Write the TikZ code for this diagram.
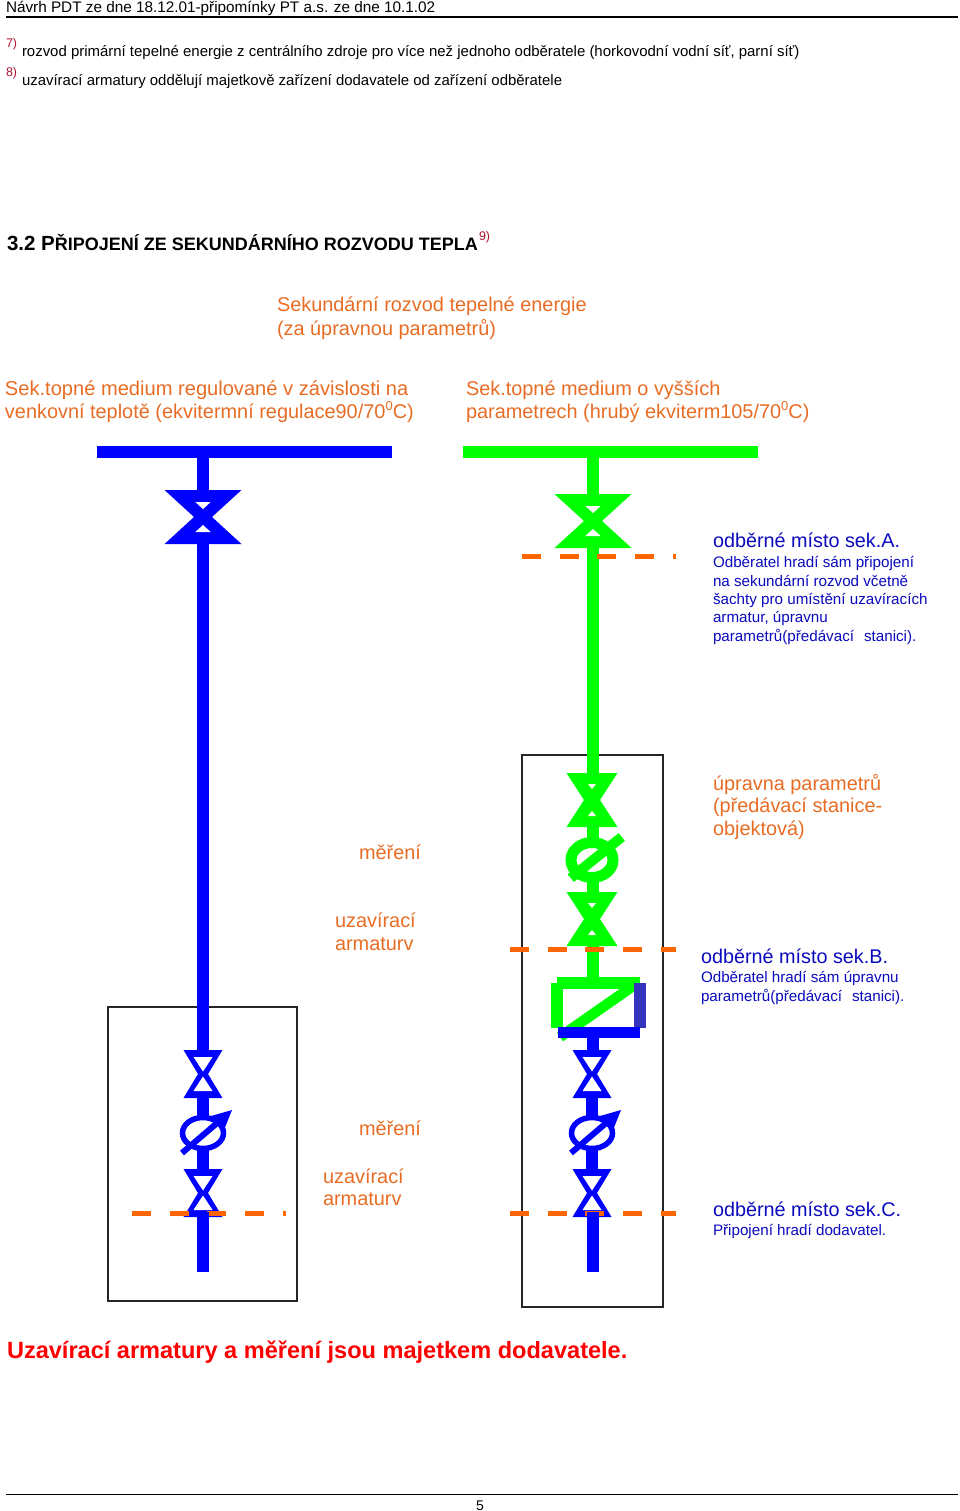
\documentclass[tikz,border=0pt]{standalone}
\usepackage{fontspec}
\setmainfont{Liberation Sans}
\definecolor{orangetxt}{RGB}{232,108,36}
\definecolor{orangecut}{RGB}{255,102,0}
\definecolor{bluetxt}{RGB}{10,10,190}
\definecolor{notered}{RGB}{170,20,50}
\definecolor{bluedark}{RGB}{51,51,190}
\definecolor{pipegreen}{RGB}{0,255,0}
\definecolor{pipeblue}{RGB}{0,0,255}
\def\fs#1{\fontsize{#1}{#1}\selectfont}
\tikzset{
lbl/.style={anchor=base west,inner sep=0pt,outer sep=0pt},
headlbl/.style={lbl,black,font=\fs{15.3}},
notelbl/.style={lbl,black,font=\fs{14.95}},
marklbl/.style={lbl,notered,font=\fs{12.5}},
orangelbl/.style={lbl,orangetxt,font=\fs{19.9}},
bigblue/.style={lbl,bluetxt,font=\fs{19.8}},
smallblue/.style={lbl,bluetxt,font=\fs{15.2}},
cutline/.style={orangecut,line width=5pt,dash pattern=on 18.8pt off 18.9pt},
pipeline/.style={line width=12pt}
}
% valve: x, y, half width, half height, colour, waist, a, b, c
\newcommand\valve[9]{
\fill [#5] (#1-#3,#2-#4)--(#1+#3,#2-#4)--(#1+#6,#2)--(#1+#3,#2+#4)--(#1-#3,#2+#4)--(#1-#6,#2)--cycle;
\fill [white] (#1-#9,#2-#7)--(#1+#9,#2-#7)--(#1,#2-#8)--cycle;
\fill [white] (#1-#9,#2+#7)--(#1+#9,#2+#7)--(#1,#2+#8)--cycle;
}
% lower set of valve, meter, valve
\newcommand\lowerset[1]{
\draw [pipeline,pipeblue] (#1-0.5,1096)--(#1-0.5,1172);
\valve{#1}{1074}{19.5}{24}{pipeblue}{5}{17}{2.5}{9.5}
\fill [white] (#1,1133) ellipse [x radius=21, y radius=16];
\draw [pipeblue,line width=5.5pt] (#1,1133) ellipse [x radius=20.5, y radius=15.5];
\draw [pipeblue,line width=6pt] (#1-21,1153)--(#1+20,1118);
\fill [pipeblue] (#1+29,1110)--(#1+8,1116)--(#1+21,1130)--cycle;
\valve{#1}{1193}{19.5}{24}{pipeblue}{5}{17}{2.5}{9.5}
}
\begin{document}
\begin{tikzpicture}[x=1pt,y=-1pt]
\useasboundingbox (0,0) rectangle (960,1511);

% header and footer
\coordinate (topleft) at (6,17);
\coordinate (topright) at (958,17);
\coordinate (botleft) at (6,1494);
\coordinate (botright) at (958,1494);
\draw [line width=1.2pt] (topleft)--(topright);
\draw [line width=1pt] (botleft)--(botright);
\node [headlbl] (title) at (6,12.5) {Návrh PDT ze dne 18.12.01-připomínky PT a.s. ze dne 10.1.02};
\node [lbl,black,font=\fs{14}] (page) at (476,1510) {5};

% notes
\node [marklbl] (mark7) at (6,48) {7)};
\node [notelbl] (note7) at (22,57) {rozvod primární tepelné energie z centrálního zdroje pro více než jednoho odběratele (horkovodní vodní síť, parní síť)};
\node [marklbl] (mark8) at (6,77) {8)};
\node [notelbl] (note8) at (22,86) {uzavírací armatury oddělují majetkově zařízení dodavatele od zařízení odběratele};

\node [lbl,black,font=\bfseries\fs{20.5}] (sect) at (7,251) {3.2 P\fs{18}ŘIPOJENÍ ZE SEKUNDÁRNÍHO ROZVODU TEPLA};
\node [marklbl] (mark9) at (479,241) {9)};

\node [orangelbl] (sek1) at (277,312) {Sekundární rozvod tepelné energie};
\node [orangelbl] (sek2) at (277,335) {(za úpravnou parametrů)};
\node [orangelbl,font=\fs{20.1}] (reg1) at (5,395) {Sek.topné medium regulované v závislosti na};
\node [orangelbl] (reg2) at (5,418) {venkovní teplotě (ekvitermní regulace90/70\raisebox{8pt}{\fs{13}0}C)};
\node [orangelbl] (hi1) at (466,395) {Sek.topné medium o vyšších};
\node [orangelbl] (hi2) at (466,418) {parametrech (hrubý ekviterm105/70\raisebox{8pt}{\fs{13}0}C)};

% boxes
\draw [line width=1.3pt,black!85] (108,1007) rectangle (297,1301);
\draw [line width=1.3pt,black!85] (522,755) rectangle (663,1307);

% blue branch
\draw [pipeblue,line width=12pt] (97,452)--(392,452);
\draw [pipeline,pipeblue] (203,452)--(203,1052);
\valve{203}{517}{38.5}{27}{pipeblue}{9}{15}{8}{7.7}

% green branch
\draw [pipegreen,line width=12pt] (463,452)--(758,452);
\draw [pipeline,pipegreen] (593,452)--(593,775);
\valve{593}{521}{38.5}{27}{pipegreen}{9}{15}{8}{7.7}
\draw [pipeline,pipegreen] (592.5,775)--(592.5,980);
\valve{592}{800}{25.5}{27}{pipegreen}{8}{16}{11}{4}
\fill [white] (592,860) ellipse [x radius=22, y radius=18];
\draw [pipegreen,line width=11pt] (592,860) ellipse [x radius=21, y radius=17.5];
\draw [pipegreen,line width=10pt] (570.7,878)--(621.7,837);
\valve{592}{919}{25.5}{27}{pipegreen}{8}{16}{11}{4}

% exchanger
\draw [pipegreen,line width=10.5pt] (560,1037)--(633,986);
\fill [pipegreen] (557,977) rectangle (640,989);
\fill [pipegreen] (551,983) rectangle (563,1028);
\fill [bluedark] (634,983) rectangle (646,1028);
\fill [pipeblue] (558,1027) rectangle (640,1038);
\draw [pipeline,pipeblue] (592.5,1036)--(592.5,1052);

% lower sets
\lowerset{203}
\lowerset{592}

% cut lines
\coordinate (cutAa) at (522,556);
\coordinate (cutAb) at (676,556);
\coordinate (cutBa) at (510,949);
\coordinate (cutBb) at (676,949);
\coordinate (cutCa) at (510,1213);
\coordinate (cutCb) at (676,1213);
\coordinate (cutDa) at (132,1213);
\coordinate (cutDb) at (286,1213);
\draw [cutline] (cutAa)--(cutAb);
\draw [cutline] (cutBa)--(cutBb);
\draw [cutline] (cutCa)--(cutCb);
\draw [cutline] (cutDa)--(cutDb);
\draw [pipeline,pipeblue] (203,1212)--(203,1272);
\draw [pipeline,pipeblue] (592.5,1212)--(592.5,1272);

% labels of the branches
\node [bigblue] (mistoA) at (713,547) {odběrné místo sek.A.};
\node [smallblue] (a1) at (713,567) {Odběratel hradí sám připojení};
\node [smallblue] (a2) at (713,586) {na sekundární rozvod včetně};
\node [smallblue] (a3) at (713,604) {šachty pro umístění uzavíracích};
\node [smallblue] (a4) at (713,622) {armatur, úpravnu};
\node [smallblue] (a5) at (713,641) {parametrů(předávací\ \ \kern1.5pt stanici).};
\node [orangelbl] (upr1) at (713,790) {úpravna parametrů};
\node [orangelbl] (upr2) at (713,812) {(předávací stanice-};
\node [orangelbl] (upr3) at (713,835) {objektová)};
\node [orangelbl] (mer1) at (359,859) {měření};
\node [orangelbl] (uz1) at (335,927) {uzavírací};
\node [orangelbl] (uz2) at (335,950) {armaturv};
\node [bigblue] (mistoB) at (701,963) {odběrné místo sek.B.};
\node [smallblue] (b1) at (701,982) {Odběratel hradí sám úpravnu};
\node [smallblue] (b2) at (701,1001) {parametrů(předávací\ \ \kern1.5pt stanici).};
\node [orangelbl] (mer2) at (359,1135) {měření};
\node [orangelbl] (uz3) at (323,1183) {uzavírací};
\node [orangelbl] (uz4) at (323,1205) {armaturv};
\node [bigblue] (mistoC) at (713,1216) {odběrné místo sek.C.};
\node [smallblue] (c1) at (713,1235) {Připojení hradí dodavatel.};
\node [lbl,red,font=\bfseries\fs{23.55}] (owner) at (7,1358) {Uzavírací armatury a měření jsou majetkem dodavatele.};
\end{tikzpicture}
\end{document}
